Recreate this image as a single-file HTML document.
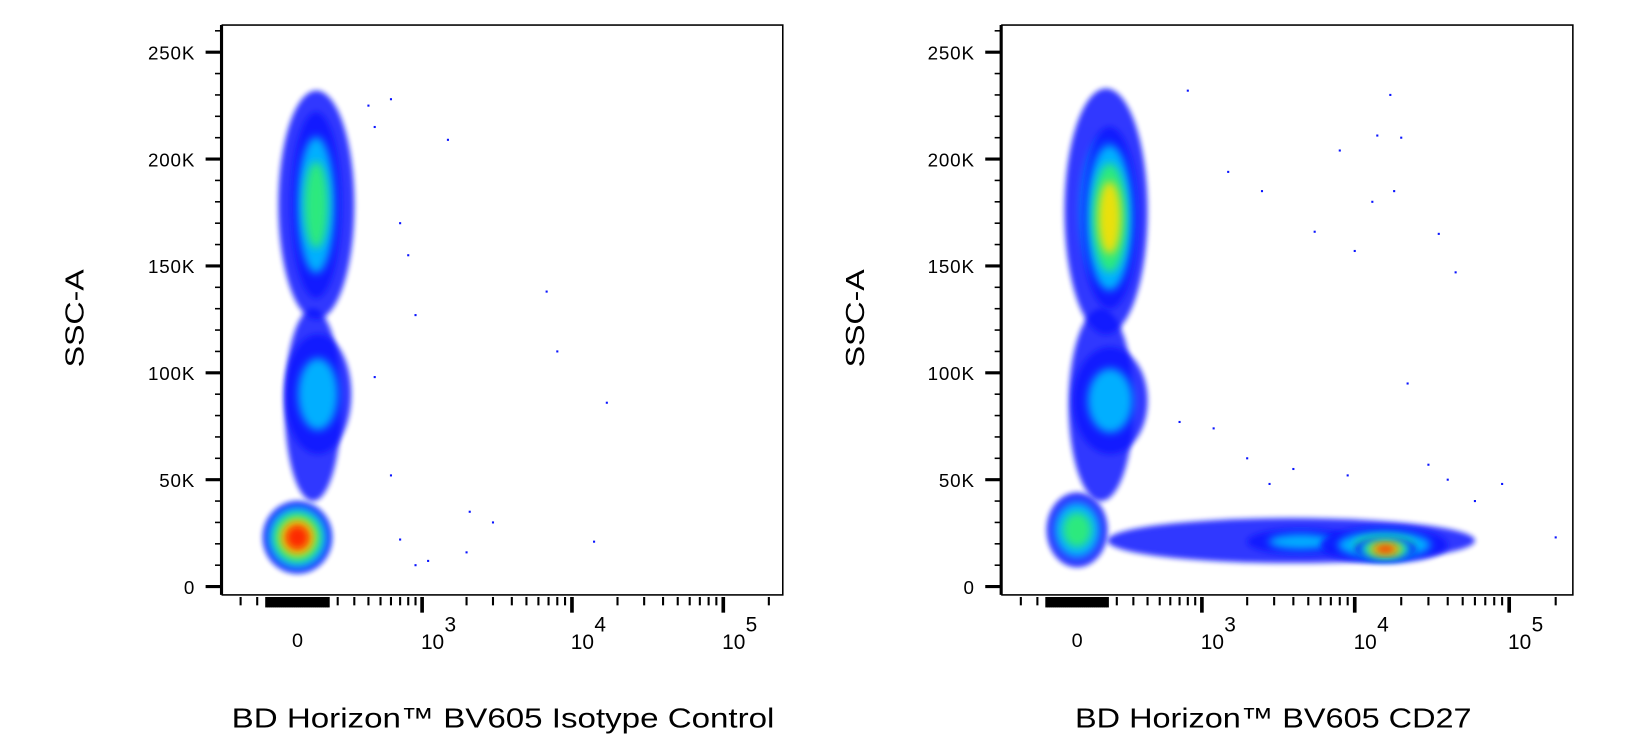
<!DOCTYPE html>
<html><head><meta charset="utf-8"><style>
html,body{margin:0;padding:0;background:#fff;}
svg{display:block;font-family:"Liberation Sans",Arial,sans-serif;}
</style></head><body>
<svg width="1632" height="754" viewBox="0 0 1632 754">
<defs>
<filter id="blur" x="-50%" y="-50%" width="200%" height="200%"><feGaussianBlur stdDeviation="4"/></filter>
<filter id="blur2" x="-50%" y="-50%" width="200%" height="200%"><feGaussianBlur stdDeviation="2.5"/></filter>
</defs>
<g id="root" transform="scale(1.0437)"></g>
</svg>
<script>
// ---- data ----
const yTicks = [0, 50, 100, 150, 200, 250];           // K
const yTickLabels = ["0", "50K", "100K", "150K", "200K", "250K"];
const xDecades = [3, 4, 5];
const xTickLabels = ["0", "10", "10", "10"];
const panelTitles = ["BD Horizon\u2122 BV605 Isotype Control", "BD Horizon\u2122 BV605 CD27"];
const yTitle = "SSC-A";
// clusters: [xLo, xHi, yLoK, yHiK, peakLevel]
const clusters1 = [
  [-60, 220, 40, 130, 0],
  [-90, 300, 125, 232, 0],
  [-30, 220, 135, 222, 2],
  [-60, 280, 62, 118, 1],
  [-170, 170, 6, 40, 4]
];
const clusters2 = [
  [-40, 300, 40, 130, 0],
  [-60, 400, 118, 233, 1],
  [20, 330, 130, 215, 3],
  [-20, 400, 62, 112, 1],
  [-150, 150, 9, 44, 2],
  [150, 60000, 11, 32, 0],
  [2000, 10000, 15, 27, 1],
  [6000, 40000, 11, 28, 2],
  [10000, 25000, 12, 23, 4]
];
// sparse outlier events: [x, yK]
const outliers1 = [[400,225],[450,215],[600,228],[1500,209],[700,170],[800,155],[900,127],[6800,138],[8000,110],[17000,86],[2100,35],[3000,30],[14000,21],[700,22],[900,10],[1100,12],[2000,16],[450,98],[600,52]];
const outliers2 = [[800,232],[1500,194],[2500,185],[5500,166],[8000,204],[10000,157],[14000,211],[17000,230],[20000,210],[35000,165],[45000,147],[22000,95],[13000,180],[18000,185],[700,77],[1200,74],[2000,60],[4000,55],[9000,52],[30000,57],[60000,40],[90000,48],[200000,23],[40000,50],[2800,48]];
const colors = ["#0a14ff", "#00c0ff", "#30f070", "#ffe000", "#ff1800"];

const NS = "http://www.w3.org/2000/svg";
const root = document.getElementById("root");
function mk(tag, attrs, parent) {
  const e = document.createElementNS(NS, tag);
  for (const k in attrs) e.setAttribute(k, attrs[k]);
  (parent || root).appendChild(e);
  return e;
}

const panels = [
  {left: 213, right: 750, top: 24, bottom: 570, y0: 562, y250: 50, zero: 285, dec: 145, z3: 118, clusters: clusters1, outliers: outliers1, tx: 482, tw: 520, ytx: 72},
  {left: 960, right: 1507, top: 24, bottom: 570, y0: 562, y250: 50, zero: 1032, dec: 148, z3: 118, clusters: clusters2, outliers: outliers2, tx: 1220, tw: 380, ytx: 820}
];

panels.forEach((p, pi) => {
  const g = mk("g", {});
  
  
  const c = 1000 / Math.pow(10, p.z3 / p.dec);
  const xs = v => p.zero + p.dec * Math.asinh(v / (2 * c)) / Math.LN10;
  const ys = k => p.y0 + (p.y250 - p.y0) * k / 250;
  const clipId = "clip" + pi;
  const cp = mk("clipPath", {id: clipId}, g);
  mk("rect", {x: p.left, y: p.top, width: p.right - p.left, height: p.bottom - p.top}, cp);
  const dg = mk("g", {"clip-path": "url(#" + clipId + ")"}, g);
  
  
  p.clusters.forEach((cl, ci) => {
    const [xl, xh, yl, yh, pk] = cl;
    const cx = (xs(xl) + xs(xh)) / 2, cy = (ys(yl) + ys(yh)) / 2;
    const rx = (xs(xh) - xs(xl)) / 2, ry = (ys(yl) - ys(yh)) / 2;
    for (let k = 0; k <= pk; k++) {
      const s = 1 - k / (pk + 1) * 0.8;
      const el = mk("ellipse", {cx: cx, cy: cy, rx: rx * s, ry: ry * s, fill: colors[k], filter: k === 0 ? "url(#blur2)" : "url(#blur)", opacity: k === 0 ? 0.85 : 0.9}, dg);
      
      
    }
  });
  p.outliers.forEach(o => {
    const r = mk("rect", {x: xs(o[0]) - 1, y: ys(o[1]) - 1, width: 2, height: 2, fill: "#0a14ff"}, dg);
    
    
  });
  const fr = mk("rect", {x: p.left, y: p.top, width: p.right - p.left, height: p.bottom - p.top, fill: "none", stroke: "#000", "stroke-width": 1.5}, g);
  
  
  const ya = mk("g", {}, g);
  
  
  mk("line", {x1: p.left - 1, x2: p.left - 1, y1: p.top, y2: p.bottom, stroke: "#000", "stroke-width": 2.5}, ya);
  for (let k = 0; k <= 260; k += 10) {
    const major = k % 50 === 0;
    mk("line", {x1: p.left - (major ? 16 : 7), x2: p.left, y1: ys(k), y2: ys(k), stroke: "#000", "stroke-width": major ? 3 : 1.5}, ya);
  }
  yTicks.forEach((t, i) => {
    const tl = mk("text", {x: p.left - 26, y: ys(t) + 7, "text-anchor": "end", "font-size": 18, "letter-spacing": 0.8, fill: "#000"}, ya);
    tl.textContent = yTickLabels[i];
    
    
  });
  const yt = mk("text", {x: p.ytx, y: 313, "text-anchor": "middle", "font-size": 25, textLength: 94, lengthAdjust: "spacingAndGlyphs", transform: "rotate(-90 " + p.ytx + " 305)"}, g);
  yt.textContent = yTitle;
  
  
  const xa = mk("g", {}, g);
  
  
  const ty = p.bottom + 2;
  const tickVals = [];
  for (let v = -150; v <= 150; v += 10) tickVals.push([v, 10, 2.5]);
  [-900,-800,-700,-600,-500,-400,-300,-200].forEach(v => tickVals.push([v, 8, 2]));
  for (let d = 2; d <= 4; d++) for (let m = 2; m <= 9; m++) tickVals.push([m * Math.pow(10, d), 8, 2]);
  tickVals.push([200000, 8, 2]);
  xDecades.forEach(d => tickVals.push([Math.pow(10, d), 15, 3.5]));
  tickVals.forEach(t => {
    const x = xs(t[0]);
    if (x < p.left + 5 || x > p.right) return;
    mk("line", {x1: x, x2: x, y1: ty, y2: ty + t[1], stroke: "#000", "stroke-width": t[2]}, xa);
  });
  const z = mk("text", {x: xs(0), y: 620, "text-anchor": "middle", "font-size": 19}, xa);
  z.textContent = xTickLabels[0];
  
  
  xDecades.forEach((d, i) => {
    const x = xs(Math.pow(10, d));
    const t = mk("text", {x: x + 10, y: 622, "text-anchor": "middle", "font-size": 20}, xa);
    t.textContent = xTickLabels[i + 1];
    
    
    const s = mk("text", {x: x + 27, y: 605, "text-anchor": "middle", "font-size": 20}, xa);
    s.textContent = String(d);
    
    
  });
  const tt = mk("text", {x: p.tx, y: 697, "text-anchor": "middle", "font-size": 27, textLength: p.tw, lengthAdjust: "spacingAndGlyphs"}, g);
  tt.textContent = panelTitles[pi];
  
  
});
</script>
</body></html>
